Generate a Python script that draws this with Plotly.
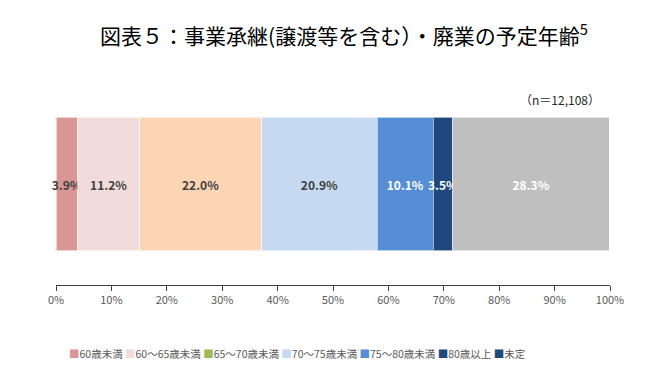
import plotly.graph_objects as go

categories = ["60歳未満", "60～65歳未満", "65～70歳未満", "70～75歳未満", "75～80歳未満", "80歳以上", "未定"]
values = [3.9, 11.2, 22.0, 20.9, 10.1, 3.5, 28.3]
bar_colors = ["#DA9694", "#F2DCDB", "#FCD5B4", "#C5D9F1", "#558ED5", "#1F497D", "#BFBFBF"]
legend_colors = ["#DA9694", "#F2DCDB", "#9BBB59", "#C5D9F1", "#558ED5", "#1F497D", "#1F497D"]
text_colors = ["#404040", "#404040", "#404040", "#404040", "#FFFFFF", "#FFFFFF", "#FFFFFF"]
tick_vals = [0, 10, 20, 30, 40, 50, 60, 70, 80, 90, 100]
tick_text = [f"{v}%" for v in tick_vals]
title_text = "図表５：事業承継(譲渡等を含む）・廃業の予定年齢<sup>5</sup>"
n_text = "（n＝12,108）"

FONT = "Noto Sans CJK JP"

fig = go.Figure()
for cat, val, bc, tc in zip(categories, values, bar_colors, text_colors):
    fig.add_trace(go.Bar(
        y=[""], x=[val], orientation="h", name=cat,
        marker=dict(color=bc, line=dict(color="rgba(255,255,255,0.6)", width=1)),
        text=[f"{val:.1f}%"], textposition="inside", insidetextanchor="middle",
        textangle=0, constraintext="none", cliponaxis=False,
        textfont=dict(color=tc, size=12, family=FONT, weight="bold"),
        width=0.66, showlegend=False, hoverinfo="skip",
    ))

# legend row (colour key) built from the category and legend colour arrays
legend_html = " ".join(
    f'<span style="color:{c}">■</span>{cat}' for cat, c in zip(categories, legend_colors)
)

fig.update_layout(
    width=672, height=371,
    barmode="stack",
    plot_bgcolor="white", paper_bgcolor="white",
    margin=dict(l=48, r=70, t=75, b=94, autoexpand=False),
    title=dict(text=title_text, x=0.5, xanchor="center", yref="container", y=0.922, yanchor="middle",
               font=dict(family=FONT, size=21, color="#000000")),
    xaxis=dict(range=[0, 100], tickvals=tick_vals, ticktext=tick_text,
               showgrid=False, zeroline=False, showline=True, linecolor="#404040", linewidth=1,
               ticks="outside", ticklen=5, tickcolor="#404040",
               tickfont=dict(family=FONT, size=11, color="#595959"), fixedrange=True),
    yaxis=dict(range=[-0.5, 0.5], showticklabels=False, showgrid=False, zeroline=False,
               showline=False, fixedrange=True),
    annotations=[
        dict(text=n_text, xref="paper", yref="paper", x=0.985, y=0.92,
             xanchor="right", yanchor="middle", showarrow=False,
             font=dict(family=FONT, size=12, color="#262626")),
        dict(text=legend_html, xref="paper", yref="paper", x=0.02, y=-0.34,
             xanchor="left", yanchor="middle", showarrow=False,
             font=dict(family=FONT, size=10.5, color="#595959")),
    ],
    showlegend=False,
)

fig.write_html("out.html")
